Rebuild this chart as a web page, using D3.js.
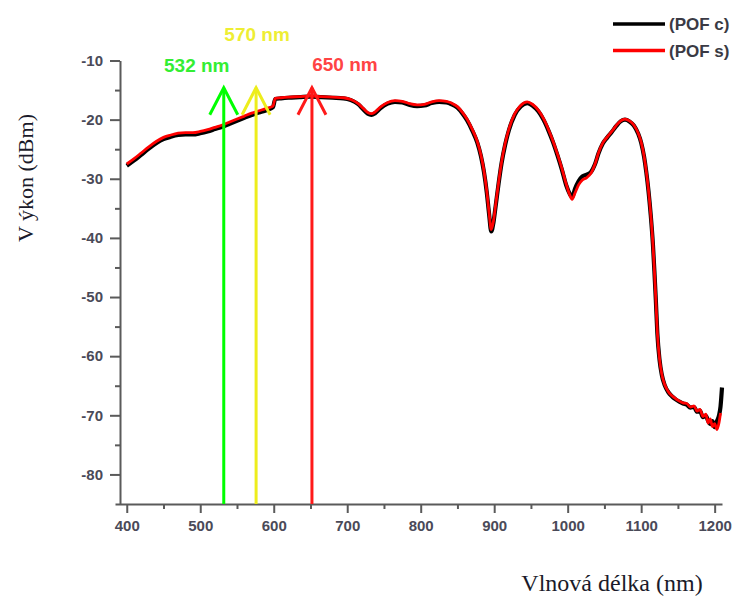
<!DOCTYPE html>
<html>
<head>
<meta charset="utf-8">
<script src="https://cdn.jsdelivr.net/npm/d3@7/dist/d3.min.js"></script>
<style>
  body { margin: 0; background: #fff; }
  svg { display: block; }
</style>
</head>
<body>
<div id="graph"></div>
<script>
// Daten: Wellenlänge (nm) und Leistung (dBm) der beiden Fasern
var wl = [400,410,420,430,440,450,460,470,480,490,500,510,520,530,540,550,560,570,580,590,599,602,610,620,635,650,665,680,695,705,715,722,728,733,738,745,755,765,775,785,795,805,815,825,835,842,850,857,863,870,877,882,886,890,893,896,899,902,906,910,915,920,928,936,945,952,960,967,974,980,986,992,998,1003,1006,1010,1015,1020,1026,1032,1037,1042,1048,1054,1060,1066,1072,1078,1084,1090,1096,1100,1104,1107,1110,1113,1116,1118,1120,1122,1125,1128,1132,1137,1142,1147,1152,1157,1162,1167,1172,1176,1180,1184,1188,1191,1194,1197,1200,1203,1206,1208,1210];

var pofS = [-27.5,-26.6,-25.6,-24.6,-23.7,-23.0,-22.6,-22.3,-22.2,-22.2,-22.0,-21.7,-21.3,-20.9,-20.4,-19.9,-19.4,-18.9,-18.5,-18.1,-17.7,-16.4,-16.3,-16.2,-16.1,-16.0,-16.1,-16.2,-16.3,-16.6,-17.3,-18.1,-18.8,-19.0,-18.7,-17.9,-17.1,-16.8,-16.9,-17.3,-17.5,-17.4,-17.0,-16.8,-16.9,-17.2,-17.8,-18.8,-19.9,-21.6,-23.7,-26.0,-28.6,-32.2,-35.7,-38.6,-37.2,-34.4,-30.6,-27.2,-24.0,-21.6,-19.0,-17.6,-17.0,-17.4,-18.4,-19.8,-21.7,-23.6,-25.8,-28.2,-30.9,-32.8,-33.5,-32.4,-31.0,-30.2,-29.8,-29.0,-27.6,-25.6,-23.9,-22.9,-22.0,-21.0,-20.2,-19.9,-20.2,-20.9,-22.3,-23.8,-26.2,-28.8,-32.0,-36.0,-41.0,-45.5,-50.5,-56.0,-60.5,-63.0,-64.8,-66.0,-66.7,-67.2,-67.6,-67.9,-68.0,-68.6,-68.4,-69.3,-69.0,-70.2,-69.8,-71.3,-70.6,-71.9,-71.4,-72.4,-71.2,-69.6,null];

var pofC = [-27.8,-26.9,-25.9,-24.9,-24.0,-23.3,-22.9,-22.6,-22.5,-22.5,-22.3,-22.0,-21.6,-21.2,-20.7,-20.2,-19.7,-19.2,-18.8,-18.4,-17.9,-16.5,-16.4,-16.3,-16.2,-16.1,-16.2,-16.3,-16.4,-16.7,-17.4,-18.3,-19.0,-19.2,-18.9,-18.1,-17.3,-17.0,-17.1,-17.5,-17.7,-17.6,-17.2,-17.0,-17.1,-17.4,-18.0,-19.0,-20.1,-21.8,-23.9,-26.2,-28.8,-32.4,-35.9,-38.9,-37.4,-34.6,-30.8,-27.4,-24.2,-21.8,-19.2,-17.8,-17.2,-17.6,-18.6,-20.0,-21.9,-23.8,-26.0,-28.4,-31.1,-32.6,-33.1,-31.7,-30.4,-29.6,-29.3,-28.8,-27.6,-25.7,-24.0,-23.0,-22.1,-21.1,-20.3,-20.0,-20.3,-21.0,-22.4,-23.9,-26.3,-28.9,-32.1,-36.1,-41.1,-45.6,-50.6,-56.1,-60.6,-63.1,-64.9,-66.1,-66.8,-67.3,-67.7,-68.0,-68.2,-68.7,-68.6,-69.4,-69.2,-70.3,-70.1,-70.9,-71.5,-71.0,-72.0,-71.0,-70.0,-68.5,-65.3];

var seriesNames = ["(POF c)", "(POF s)"];
var seriesColors = ["#000000", "#ff0000"];

var xTicks = [400, 500, 600, 700, 800, 900, 1000, 1100, 1200];
var xMinor = [450, 550, 650, 750, 850, 950, 1050, 1150];
var yTicks = [-10, -20, -30, -40, -50, -60, -70, -80];
var yMinor = [-15, -25, -35, -45, -55, -65, -75];

// Laser-Markierungen
var arrowNm = [532, 576, 652];
var arrowTop = -14.6;
var arrowLabels = ["532 nm", "570 nm", "650 nm"];
var arrowColors = ["#00ff00", "#eded1c", "#ff1a1a"];
var labelColors = ["#33ee33", "#eeee33", "#ff4444"];

var W = 749, H = 597;
var svg = d3.select("#graph").append("svg")
    .attr("width", W)
    .attr("height", H);

// Skalen
var x = d3.scaleLinear().domain([384, 1210]).range([115, 722]);
var y = d3.scaleLinear().domain([-85, -10]).range([504, 60.5]);
var axisX0 = 120;

var tickFont = "bold 15px 'Liberation Sans', Arial, sans-serif";
var plain = function(d) { return String(d); }; // normaler Bindestrich statt Minuszeichen

// x-Achse
svg.append("g")
    .attr("transform", "translate(0," + y(-85) + ")")
    .call(d3.axisBottom(x).tickValues(xTicks).tickFormat(plain)
        .tickSize(9).tickPadding(7).tickSizeOuter(0));
svg.append("g")
    .attr("transform", "translate(0," + y(-85) + ")")
    .call(d3.axisBottom(x).tickValues(xMinor).tickSize(5).tickFormat("").tickSizeOuter(0))
    .select(".domain").remove();

// y-Achse
svg.append("g")
    .attr("transform", "translate(" + axisX0 + ",0)")
    .call(d3.axisLeft(y).tickValues(yTicks).tickFormat(plain)
        .tickSize(10).tickPadding(7).tickSizeOuter(0));
svg.append("g")
    .attr("transform", "translate(" + axisX0 + ",0)")
    .call(d3.axisLeft(y).tickValues(yMinor).tickSize(5).tickFormat("").tickSizeOuter(0))
    .select(".domain").remove();

svg.selectAll(".domain, .tick line")
    .attr("stroke", "#5a5a5a")
    .attr("stroke-width", 2);
svg.selectAll(".tick text")
    .style("font", tickFont)
    .attr("fill", "#4a4a58");

// Kurven
var line = d3.line()
    .defined(function(d) { return d[1] !== null; })
    .x(function(d) { return x(d[0]); })
    .y(function(d) { return y(d[1]); })
    .curve(d3.curveMonotoneX);

svg.append("path")
    .datum(wl.map(function(w, i) { return [w, pofC[i]]; }))
    .attr("d", line)
    .attr("fill", "none")
    .attr("stroke", seriesColors[0])
    .attr("stroke-width", 4.2)
    .attr("stroke-linejoin", "round");

svg.append("path")
    .datum(wl.map(function(w, i) { return [w, pofS[i]]; }))
    .attr("d", line)
    .attr("fill", "none")
    .attr("stroke", seriesColors[1])
    .attr("stroke-width", 2.8)
    .attr("stroke-linejoin", "round");

// Pfeile
var labelDx = [-27, 1, 33];
var labelY = [72, 41, 71];
arrowNm.forEach(function(nm, i) {
    var ax = x(nm), ty = y(arrowTop);
    var g = svg.append("g")
        .attr("stroke", arrowColors[i])
        .attr("stroke-width", 3)
        .attr("fill", "none");
    g.append("line")
        .attr("x1", ax).attr("x2", ax)
        .attr("y1", y(-85)).attr("y2", ty);
    g.append("path")
        .attr("d", "M" + (ax - 14) + "," + (ty + 27) + "L" + ax + "," + ty + "L" + (ax + 14) + "," + (ty + 27));
    svg.append("text")
        .attr("x", ax + labelDx[i])
        .attr("y", labelY[i])
        .attr("text-anchor", "middle")
        .style("font", "bold 19px 'Liberation Sans', Arial, sans-serif")
        .attr("fill", labelColors[i])
        .text(arrowLabels[i]);
});

// Legende
seriesNames.forEach(function(name, i) {
    var ly = 24 + i * 26.5;
    svg.append("line")
        .attr("x1", 613).attr("x2", 665)
        .attr("y1", ly).attr("y2", ly)
        .attr("stroke", seriesColors[i])
        .attr("stroke-width", 3.5);
    svg.append("text")
        .attr("x", 669)
        .attr("y", ly + 6)
        .style("font", "bold 17px 'Liberation Sans', Arial, sans-serif")
        .attr("fill", "#3a3a44")
        .text(name);
});

// Achsenbeschriftungen
svg.append("text")
    .attr("x", 612)
    .attr("y", 591)
    .attr("text-anchor", "middle")
    .style("font", "24px 'Liberation Serif', 'Times New Roman', serif")
    .attr("fill", "#1a1a2a")
    .text("Vlnová délka (nm)");

svg.append("text")
    .attr("transform", "translate(33,178) rotate(-90)")
    .attr("text-anchor", "middle")
    .style("font", "22px 'Liberation Serif', 'Times New Roman', serif")
    .attr("fill", "#1a1a2a")
    .text("V ýkon (dBm)");
</script>
</body>
</html>
